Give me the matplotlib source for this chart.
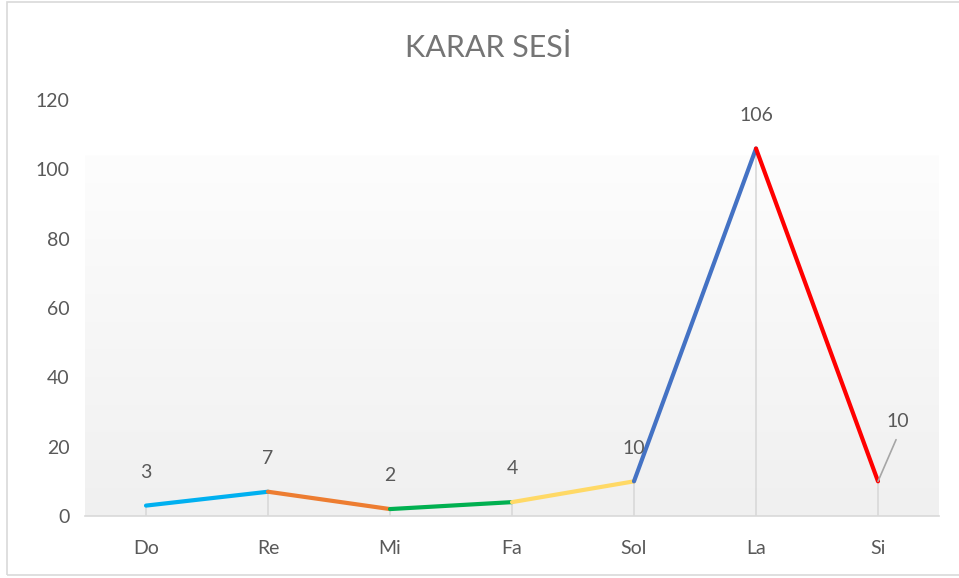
import matplotlib.pyplot as plt
import numpy as np
from matplotlib.colors import LinearSegmentedColormap
from matplotlib.patches import Rectangle

notes = ["Do", "Re", "Mi", "Fa", "Sol", "La", "Si"]
counts = [3, 7, 2, 4, 10, 106, 10]
segment_colors = ["#00b0f0", "#ed7d31", "#00b050", "#ffd966", "#4472c4", "#ff0000"]
y_ticks = [0, 20, 40, 60, 80, 100, 120]
title = "KARAR SESİ"

text_color = "#595959"
plt.rcParams["font.family"] = ["Lato", "DejaVu Sans"]

fig = plt.figure(figsize=(9.59, 5.78), dpi=100)
ax = fig.add_axes([85 / 959, 62 / 578, 854 / 959, 416 / 578])

x = np.arange(len(notes))
ax.set_xlim(-0.5, len(notes) - 0.5)
ax.set_ylim(0, 120)

# plot area gradient (starts a bit below the top of the axes)
grad = np.linspace(0, 1, 256).reshape(-1, 1)
cmap = LinearSegmentedColormap.from_list("bg", ["#fdfdfd", "#f0f0f0"])
ax.imshow(grad, extent=[0, 1, 0, 361 / 416], origin="upper", transform=ax.transAxes,
          cmap=cmap, aspect="auto", zorder=0)

# drop lines
ax.vlines(x, 0, counts, color="#d9d9d9", linewidth=1.2, zorder=1)

# line segments, one colour each
for i, c in enumerate(segment_colors):
    ax.plot(x[i:i + 2], counts[i:i + 2], color=c, linewidth=3,
            solid_capstyle="round", zorder=3)

# data labels
for i, v in enumerate(counts[:-1]):
    ax.annotate(str(v), (x[i], v), xytext=(0, 24), textcoords="offset points",
                ha="center", va="center", fontsize=14, color=text_color, zorder=4)
ax.annotate(str(counts[-1]), (x[-1], counts[-1]), xytext=(14, 43),
            textcoords="offset points", ha="center", va="center", fontsize=14,
            color=text_color, zorder=4)
ax.annotate("", (x[-1], counts[-1]), xytext=(13, 30), textcoords="offset points",
            arrowprops=dict(arrowstyle="-", color="#a6a6a6", lw=1.2,
                            shrinkA=0, shrinkB=0), zorder=4)

ax.set_xticks(x, notes)
ax.set_yticks(y_ticks)
ax.tick_params(axis="both", length=0, labelsize=14, labelcolor=text_color)
ax.tick_params(axis="x", pad=17)
ax.tick_params(axis="y", pad=11)
for side in ["top", "right", "left"]:
    ax.spines[side].set_visible(False)
ax.spines["bottom"].set_color("#d9d9d9")
ax.spines["bottom"].set_linewidth(1.2)

fig.text(488 / 959, 1 - 48 / 578, title, ha="center", va="center", fontsize=22,
         color="#757575")

# chart border
fig.patches.append(Rectangle((7 / 959, 3 / 578), 1.0, 573 / 578, transform=fig.transFigure,
                             fill=False, edgecolor="#d9d9d9", linewidth=1.2))

fig.savefig("out.png", dpi=100)
